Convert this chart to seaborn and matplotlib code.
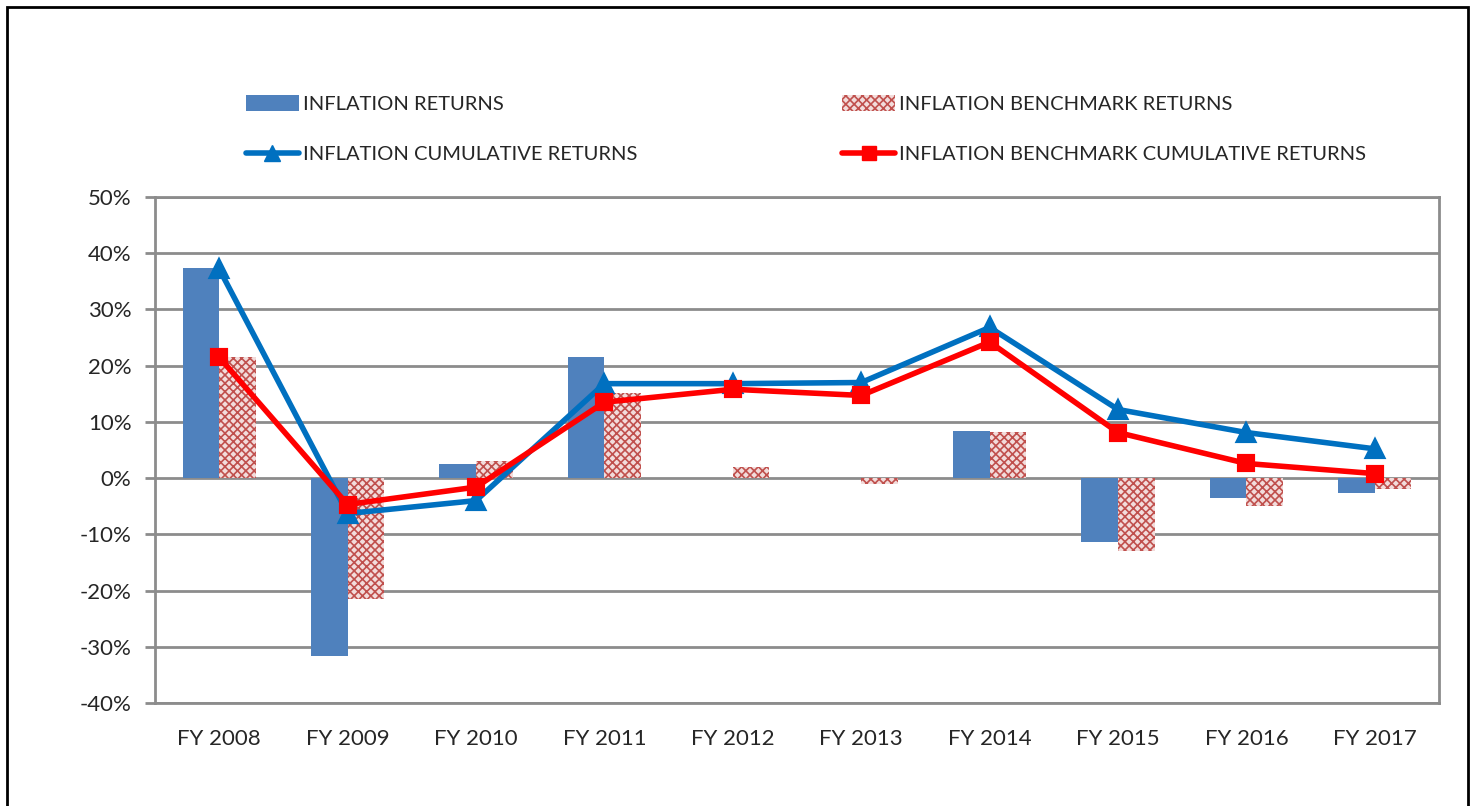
import pandas as pd
import seaborn as sns
import matplotlib.pyplot as plt
from matplotlib.patches import Patch, Rectangle
from matplotlib.lines import Line2D
from matplotlib.ticker import FuncFormatter

# data (percent)
years = ["FY 2008", "FY 2009", "FY 2010", "FY 2011", "FY 2012",
         "FY 2013", "FY 2014", "FY 2015", "FY 2016", "FY 2017"]
inflation_returns = [37.4, -31.7, 2.5, 21.5, 0.0, 0.1, 8.3, -11.4, -3.6, -2.6]
benchmark_returns = [21.5, -21.5, 3.0, 15.2, 2.0, -1.0, 8.2, -13.0, -5.0, -1.9]
inflation_cum = [37.2, -6.3, -4.0, 16.8, 16.8, 17.0, 26.8, 12.2, 8.1, 5.2]
benchmark_cum = [21.5, -4.7, -1.6, 13.5, 15.8, 14.7, 24.2, 8.1, 2.6, 0.8]

bar_labels = ["INFLATION RETURNS", "INFLATION BENCHMARK RETURNS"]
line_labels = ["INFLATION CUMULATIVE RETURNS", "INFLATION BENCHMARK CUMULATIVE RETURNS"]

BAR_BLUE = "#4F81BD"
HATCH_RED = "#C0504D"
HATCH_BG = "#F2DCDB"
LINE_BLUE = "#0070C0"
LINE_RED = "#FF0000"
GRID = "#8C8C8C"

sns.set_style("white")
plt.rcParams["font.family"] = ["Lato", "DejaVu Sans"]
plt.rcParams["hatch.linewidth"] = 1.2

bars = pd.DataFrame({
    "year": years * 2,
    "value": inflation_returns + benchmark_returns,
    "series": [bar_labels[0]] * len(years) + [bar_labels[1]] * len(years),
})

fig = plt.figure(figsize=(14.76, 8.06), dpi=100)
ax = fig.add_axes([0.105, 0.1278, 0.870, 0.6278])

sns.barplot(data=bars, x="year", y="value", hue="series", order=years,
            palette=[BAR_BLUE, HATCH_BG], width=0.57, gap=0, saturation=1,
            linewidth=0, legend=False, ax=ax)
for p in ax.containers[1]:
    p.set_hatch("xxxx")
    p.set_edgecolor(HATCH_RED)
    p.set_linewidth(0)

sns.pointplot(x=years, y=inflation_cum, color=LINE_BLUE, markers="^",
              linestyles="-", markersize=11, linewidth=4, ax=ax)
sns.pointplot(x=years, y=benchmark_cum, color=LINE_RED, markers="s",
              linestyles="-", markersize=10, linewidth=4, ax=ax)

ax.set_ylim(-40, 50)
ax.set_xlim(-0.5, len(years) - 0.5)
ax.set_yticks(range(-40, 51, 10))
ax.yaxis.set_major_formatter(FuncFormatter(lambda v, _: f"{v:.0f}%"))
ax.grid(axis="y", color=GRID, linewidth=2)
ax.set_axisbelow(True)
ax.set_xlabel("")
ax.set_ylabel("")
for s in ax.spines.values():
    s.set_color(GRID)
    s.set_linewidth(2)
ax.tick_params(axis="y", left=True, length=7, width=2, color=GRID,
               labelsize=16, pad=10)
ax.tick_params(axis="x", bottom=False, labelsize=16, pad=15)

# legends (two columns placed separately)
leg_kw = dict(frameon=False, fontsize=14.5, handlelength=2.6, handleheight=0.85,
              handletextpad=0.2, labelspacing=1.62, loc="upper left")
h_left = [Patch(facecolor=BAR_BLUE, edgecolor="none"),
          Line2D([], [], color=LINE_BLUE, lw=4, marker="^", markersize=11)]
h_right = [Patch(facecolor=HATCH_BG, edgecolor=HATCH_RED, hatch="xxxx", lw=0),
           Line2D([], [], color=LINE_RED, lw=4, marker="s", markersize=10)]
leg1 = fig.legend(h_left, [bar_labels[0], line_labels[0]],
                  bbox_to_anchor=(0.1545, 0.905), **leg_kw)
leg2 = fig.legend(h_right, [bar_labels[1], line_labels[1]],
                  bbox_to_anchor=(0.5585, 0.905), **leg_kw)

# outer chart border
fig.add_artist(Rectangle((0.0047, -0.05), 0.990, 1.041, transform=fig.transFigure,
                         fill=False, edgecolor="black", linewidth=2))

fig.savefig("out.png", dpi=100)
